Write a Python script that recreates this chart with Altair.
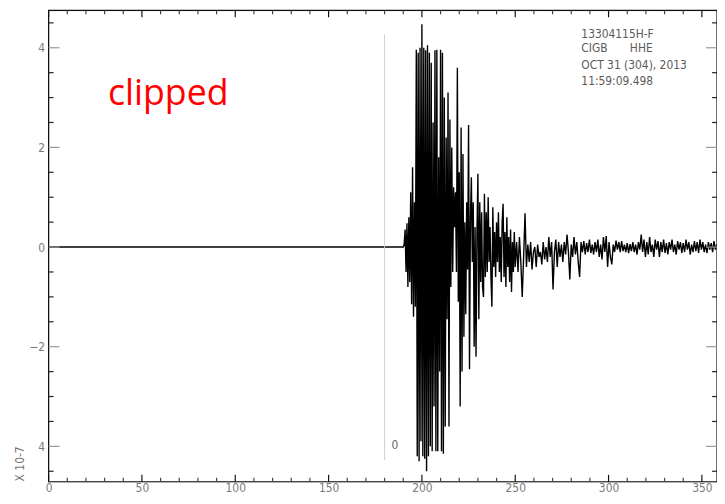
import altair as alt
import pandas as pd

# ---------------- data ----------------
# quiet trace before the arrival
pre_t = [0.0]
pre_v = [0.0]

# main burst, samples every 0.5 s starting at t = 190.0
burst_start = 190.0
burst_step = 0.5
burst_vals = [
    0.0, 0.05, 0.35, -0.5, 0.48, -0.8, 0.6, -0.7, 1.1, -1.15,
    1.6, -1.4, 0.9, -1.2, 3.96, -4.2, 3.9, -4.3, 4.0, -3.9,
    4.47, -4.2, 4.0, -4.25, 3.95, -4.5, 4.05, -4.2, 3.9, -4.0,
    3.7, -4.1, 2.5, -3.2, 3.95, -4.1, 3.96, -4.1, 1.8, -2.5,
    3.96, -4.1, 3.9, -4.15, 3.0, -3.6, 2.2, -1.45, 3.1, -3.6,
    2.56, -0.8, 2.0, -0.5, 1.2, 0.4, 1.1, -0.5, 3.6, -1.1,
    1.5, -3.2, 2.4, -2.5, 1.87, -1.8, 0.5, -1.35, 0.9, -0.45,
    2.45, -2.45, 0.6, 1.4, -0.3, 0.9, -2.0, 0.4, -2.2, 0.3,
    1.47, -1.45, 0.9, -0.7, 0.7, -0.8, -1.0, 1.07, -0.6, 0.7,
    -0.5, 1.0, -0.3, 0.4, -0.6, -1.2, 0.8, -0.4, 0.3, -0.6,
    0.5, -0.3, 0.7, -0.5, 0.2, -0.7, 0.5, 0.87, -0.6, 0.3,
    -0.8, 0.6, -0.4, 0.2, -0.7, 0.35, -0.9, 0.1, -0.5, 0.3,
    -0.4,
]

# coda, samples every 0.75 s starting at t = 250.75
coda_start = 250.75
coda_step = 0.75
coda_vals = [
    0.1, -0.5, 0.2, -0.3, -1.0, -0.2, 0.68, -0.4, 0.05, -0.3,
    0.1, -0.45, -0.1, 0.0, -0.4, 0.05, -0.2, -0.1, -0.35, 0.1,
    -0.25, 0.0, -0.3, 0.2, -0.2, 0.1, -0.85, -0.1, 0.15, -0.4,
    0.1, -0.2, 0.05, -0.3, 0.1, -0.15, 0.25, -0.1, -0.65, 0.05,
    -0.2, 0.2, -0.15, 0.1, -0.3, -0.6, 0.1, -0.1, 0.12, -0.15,
    0.08, -0.1, 0.15, -0.12, 0.05, -0.15, 0.1, -0.1, 0.15, -0.2,
    0.05, -0.25, 0.2, -0.1, 0.22, -0.4, 0.1, -0.2, -0.35, 0.05,
    -0.1, 0.13, -0.05, 0.1, -0.1, 0.12, -0.08, 0.05, -0.1, 0.08,
    -0.12, 0.06, -0.08, 0.1, -0.1, 0.05, -0.15, 0.1, -0.05, 0.25,
    -0.1, 0.15, -0.2, 0.1, -0.15, 0.2, -0.1, 0.05, -0.2, 0.15,
    -0.05, 0.12, -0.2, 0.1, -0.1, 0.15, -0.12, 0.08, -0.15, 0.1,
    -0.05, 0.15, -0.1, 0.05, -0.15, 0.12, -0.05, 0.1, -0.12, 0.08,
    -0.1, 0.15, -0.05, 0.1, -0.15, 0.05, -0.1, 0.12, -0.08, 0.1,
    -0.12, 0.15, -0.05, 0.1, -0.1, 0.05, -0.12, 0.1, -0.05, 0.08,
    -0.1, 0.12, -0.05, 0.05,
]

# axis ticks / labels
x_label_vals = [0, 50, 100, 150, 200, 250, 300, 350]
x_minor_ticks = [10, 20, 30, 40, 60, 70, 80, 90, 110, 120, 130, 140, 160, 170,
                 180, 190, 210, 220, 230, 240, 260, 270, 280, 290, 310, 320,
                 330, 340]
y_label_vals = [-4, -2, 0, 2, 4]
y_minor_ticks = [-4.5, -3.5, -3, -2.5, -1.5, -1, -0.5, 0.5, 1, 1.5, 2.5, 3,
                 3.5, 4.5]

pick_time = [180]
pick_label = ["0"]

header_lines = ["13304115H-F", "CIGB", "HHE", "OCT 31 (304), 2013", "11:59:09.498"]
scale_label = "X 10-7"
note_text = "clipped"

# ---------------- build tables ----------------
t = list(pre_t)
v = list(pre_v)
t += [burst_start + i * burst_step for i in range(len(burst_vals))]
v += burst_vals
t += [coda_start + i * coda_step for i in range(len(coda_vals))]
v += coda_vals
wave = pd.DataFrame({"t": t, "v": v})

W, H = 675, 476
X_DOM = [0, 358.1]
Y_DOM = [-4.71, 4.75]
FONT = "DejaVu Sans Condensed, Liberation Sans Narrow, DejaVu Sans, sans-serif"
LABEL_COLOR = "#7a7a7a"

xscale = alt.Scale(domain=X_DOM, nice=False, zero=False)
yscale = alt.Scale(domain=Y_DOM, nice=False, zero=False)

xaxis = alt.Axis(values=x_label_vals, ticks=False, domain=False, grid=False,
                 labelFont=FONT, labelFontSize=12, labelColor=LABEL_COLOR,
                 labelPadding=1, title=None, labelFlush=False,
                 labelOverlap=False)
yaxis = alt.Axis(values=y_label_vals, ticks=False, domain=False, grid=False,
                 labelFont=FONT, labelFontSize=12, labelColor=LABEL_COLOR,
                 labelPadding=4, title=None,
                 labelExpr="datum.value == -4 ? '4' : datum.label")

line = alt.Chart(wave).mark_line(color="black", strokeWidth=1.4, clip=True,
                                 interpolate="linear").encode(
    x=alt.X("t:Q", scale=xscale, axis=xaxis),
    y=alt.Y("v:Q", scale=yscale, axis=yaxis),
    order="t:Q",
)

layers = [line]

# frame
layers.append(alt.Chart(pd.DataFrame({"s": [0]})).mark_rect(
    fill=None, fillOpacity=0, stroke="#111", strokeWidth=1.2
).encode(x=alt.value(0), x2=alt.value(W), y=alt.value(0), y2=alt.value(H)))

# x ticks (bottom & top, pointing inward)
xmaj = pd.DataFrame({"t": x_label_vals})
xmin = pd.DataFrame({"t": x_minor_ticks})
for df, L, col in [(xmaj, 7, "#111"), (xmin, 4, "#444")]:
    layers.append(alt.Chart(df).mark_rule(color=col, strokeWidth=1.2).encode(
        x=alt.X("t:Q", scale=xscale), y=alt.value(H), y2=alt.value(H - L)))
    layers.append(alt.Chart(df).mark_rule(color=col, strokeWidth=1.2).encode(
        x=alt.X("t:Q", scale=xscale), y=alt.value(0), y2=alt.value(L)))

# y ticks (left & right, pointing inward)
ymaj = pd.DataFrame({"v": y_label_vals})
ymin = pd.DataFrame({"v": y_minor_ticks})
for df, L, col in [(ymaj, 11, "#999999"), (ymin, 5, "#222")]:
    layers.append(alt.Chart(df).mark_rule(color=col, strokeWidth=1.2).encode(
        y=alt.Y("v:Q", scale=yscale), x=alt.value(0), x2=alt.value(L)))
    layers.append(alt.Chart(df).mark_rule(color=col, strokeWidth=1.2).encode(
        y=alt.Y("v:Q", scale=yscale), x=alt.value(W), x2=alt.value(W - L)))

# pick marker
pick_df = pd.DataFrame({"t": pick_time, "lab": pick_label})
layers.append(alt.Chart(pick_df).mark_rule(color="#cfcfcf", strokeWidth=1).encode(
    x=alt.X("t:Q", scale=xscale), y=alt.value(24), y2=alt.value(454)))
layers.append(alt.Chart(pick_df).mark_text(
    font=FONT, fontSize=12, color="#666", align="left", baseline="middle", dx=7
).encode(x=alt.X("t:Q", scale=xscale), y=alt.value(439), text="lab:N"))

# header block (top right)
hdr_pos = [(538, 24), (538, 38), (587, 38), (538, 55), (538, 71)]
for txt, (px, py) in zip(header_lines, hdr_pos):
    layers.append(alt.Chart(pd.DataFrame({"s": [txt]})).mark_text(
        font=FONT, fontSize=12, color="#5a5a5a", align="left", baseline="middle"
    ).encode(x=alt.value(px), y=alt.value(py), text="s:N"))

# amplitude scale label
layers.append(alt.Chart(pd.DataFrame({"s": [scale_label]})).mark_text(
    font=FONT, fontSize=12, color="#777", align="center", baseline="middle",
    angle=270
).encode(x=alt.value(-29), y=alt.value(458), text="s:N"))

# red annotation
layers.append(alt.Chart(pd.DataFrame({"s": [note_text]})).mark_text(
    font="Open Sans", fontSize=36, color="#ff0000", align="left",
    baseline="alphabetic"
).encode(x=alt.value(60), y=alt.value(96), text="s:N"))

chart = alt.layer(*layers).properties(
    width=W, height=H,
    autosize=alt.AutoSizeParams(type="none"),
    padding={"left": 41, "top": 0, "right": 0, "bottom": 12},
).configure_view(stroke=None).configure(background="white")

chart.save("out.html", embed_options={"renderer": "svg", "actions": False})
